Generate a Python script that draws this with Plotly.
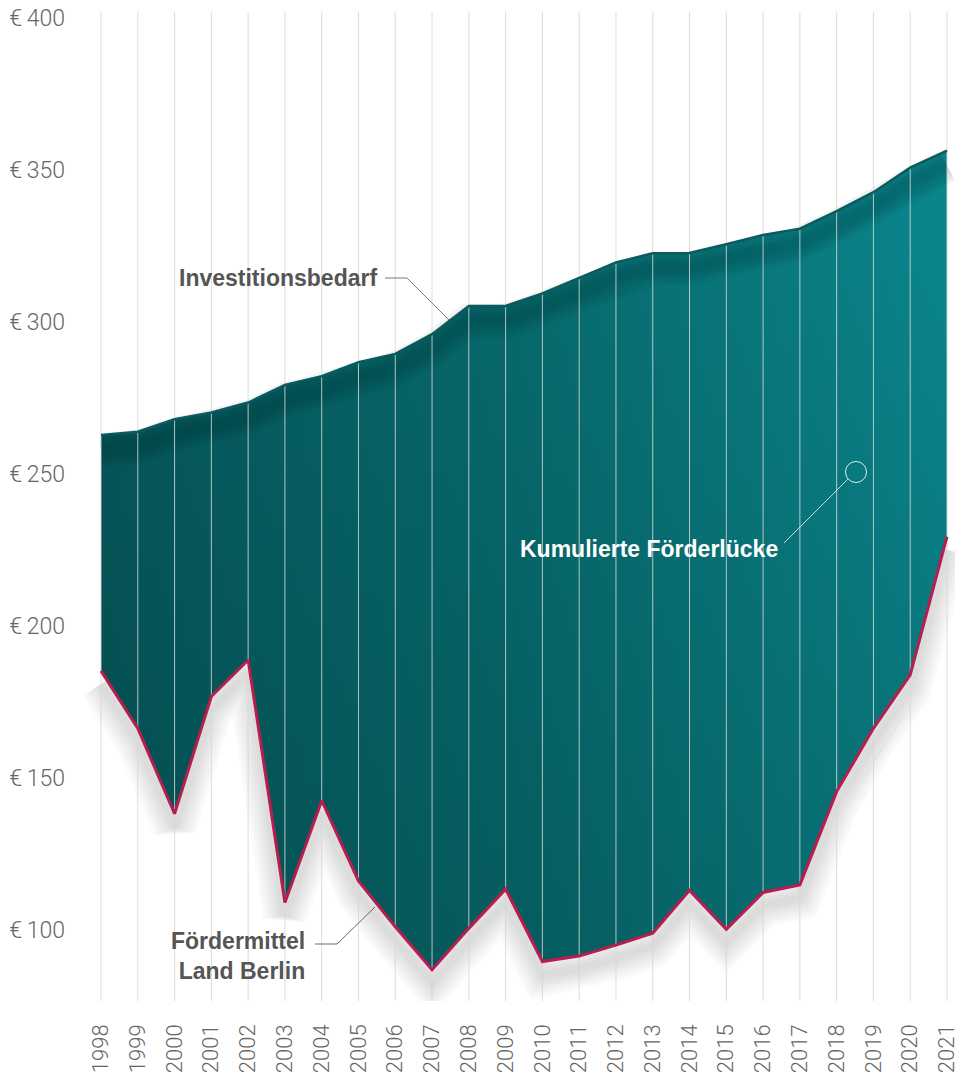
import plotly.graph_objects as go

# ---------------- data ----------------
years = list(range(1998, 2022))
investitionsbedarf = [262.8, 263.9, 268.0, 270.2, 273.5, 279.3, 282.2, 286.8, 289.5, 296.0,
                      305.3, 305.3, 309.4, 314.4, 319.6, 322.6, 322.7, 325.6, 328.6, 330.7,
                      336.5, 342.7, 350.8, 356.4]
foerdermittel = [185.2, 166.3, 138.2, 176.8, 188.8, 109.0, 142.5, 116.1, 101.0, 86.9,
                 100.5, 113.4, 89.6, 91.4, 95.0, 98.9, 113.0, 100.2, 112.3, 114.8,
                 145.5, 166.3, 183.9, 229.4]
y_tick_values = [100, 150, 200, 250, 300, 350, 400]
y_tick_labels = ["€\u2009" + str(v) for v in y_tick_values]
x_tick_labels = [str(y) for y in years]

# ---------------- layout geometry ----------------
W, H = 963, 1076
ML, MR, MT, MB = 70, 8, 12, 75
PW, PH = W - ML - MR, H - MT - MB
X0, X1 = 1997.157, 2021.2175
Y0, Y1 = 76.6, 402.0
ppu_y = PH / (Y1 - Y0)
ppu_x = PW / (X1 - X0)


def xd(px):
    return X0 + (px - ML) / ppu_x


def yd(py):
    return Y1 - (py - MT) / ppu_y


shift_bottom = 13 / ppu_y
shift_top = 15 / ppu_y

fig = go.Figure()

# bottom line shadow (on shifted axis y)
for w in [44, 38, 32, 26, 20, 14, 8]:
    fig.add_trace(go.Scatter(x=years, y=foerdermittel, mode="lines", yaxis="y",
                             line=dict(color="rgba(0,0,0,0.02)", width=w),
                             hoverinfo="skip", showlegend=False))

# main fill (y2)
fig.add_trace(go.Scatter(x=years, y=foerdermittel, mode="lines", yaxis="y2",
                         line=dict(width=0), hoverinfo="skip", showlegend=False))
fig.add_trace(go.Scatter(x=years, y=investitionsbedarf, mode="lines", yaxis="y2",
                         line=dict(width=0), fill="tonexty",
                         fillgradient=dict(type="horizontal",
                                           colorscale=[[0, "#05575a"], [0.5, "#076a6d"], [1, "#0a858c"]]),
                         hoverinfo="skip", showlegend=False))
# vertical darkening overlay
fig.add_trace(go.Scatter(x=years, y=foerdermittel, mode="lines", yaxis="y2",
                         line=dict(width=0), hoverinfo="skip", showlegend=False))
fig.add_trace(go.Scatter(x=years, y=investitionsbedarf, mode="lines", yaxis="y2",
                         line=dict(width=0), fill="tonexty",
                         fillgradient=dict(type="vertical", start=85, stop=330,
                                           colorscale=[[0, "rgba(0,40,40,0.22)"], [1, "rgba(0,40,40,0)"]]),
                         hoverinfo="skip", showlegend=False))

# top line inner shadow (shifted axis y3)
for w in [34, 28, 22, 16, 10]:
    fig.add_trace(go.Scatter(x=years, y=investitionsbedarf, mode="lines", yaxis="y3",
                             line=dict(color="rgba(0,35,35,0.05)", width=w),
                             hoverinfo="skip", showlegend=False))

# vertical grid lines (y4)
gx, gy = [], []
for yr in years:
    gx += [yr, yr, None]
    gy += [Y0, Y1, None]
fig.add_trace(go.Scatter(x=gx, y=gy, mode="lines", yaxis="y4",
                         line=dict(color="rgba(214,214,214,0.85)", width=1),
                         hoverinfo="skip", showlegend=False))

# lines
fig.add_trace(go.Scatter(x=years, y=foerdermittel, mode="lines", yaxis="y4",
                         name="Fördermittel Land Berlin",
                         line=dict(color="#b81d4f", width=3), showlegend=False))
fig.add_trace(go.Scatter(x=years, y=investitionsbedarf, mode="lines", yaxis="y4",
                         name="Investitionsbedarf",
                         line=dict(color="#0b5b5e", width=2.5), showlegend=False))

ytick_font = dict(family="Roboto, 'Liberation Sans', Arial, sans-serif", size=23,
                  color="#666666", weight=300)
xtick_font = dict(family="Roboto, 'Liberation Sans', Arial, sans-serif", size=22,
                  color="#666666", weight=300)
label_font = dict(family="'Liberation Sans', Arial, sans-serif", size=23,
                  color="#555555", weight="bold")

fig.update_layout(
    width=W, height=H,
    margin=dict(l=ML, r=MR, t=MT, b=MB, pad=0, autoexpand=False),
    paper_bgcolor="white", plot_bgcolor="white",
    showlegend=False,
    xaxis=dict(range=[X0, X1], tickvals=years, ticktext=x_tick_labels, tickangle=-90,
               showgrid=False, zeroline=False, showline=False, ticks="", automargin=False,
               ticklabelstandoff=18, tickfont=xtick_font, fixedrange=True),
    yaxis=dict(range=[Y0 + shift_bottom, Y1 + shift_bottom], visible=False, fixedrange=True,
               automargin=False),
    yaxis2=dict(range=[Y0, Y1], overlaying="y", side="left", tickvals=y_tick_values,
                ticktext=y_tick_labels, showgrid=False, zeroline=False, showline=False,
                ticks="", tickfont=ytick_font, fixedrange=True, ticklabelstandoff=4,
                automargin=False),
    yaxis3=dict(range=[Y0 + shift_top, Y1 + shift_top], overlaying="y", visible=False,
                fixedrange=True, automargin=False),
    yaxis4=dict(range=[Y0, Y1], overlaying="y", visible=False, fixedrange=True,
                automargin=False),
)

# annotations
fig.add_annotation(x=xd(379), y=yd(278), xref="x", yref="y2", text="Investitionsbedarf",
                   showarrow=False, xanchor="right", yanchor="middle", font=label_font)
fig.add_annotation(x=xd(780), y=yd(549), xref="x", yref="y2", text="Kumulierte Förderlücke",
                   showarrow=False, xanchor="right", yanchor="middle",
                   font=dict(label_font, color="white"))
fig.add_annotation(x=xd(307), y=yd(956), xref="x", yref="y2",
                   text="Fördermittel<br>Land Berlin", align="right",
                   showarrow=False, xanchor="right", yanchor="middle", font=label_font)

# connector shapes
def path(points):
    return "M " + " L ".join(f"{xd(px)},{yd(py)}" for px, py in points)

fig.add_shape(type="path", xref="x", yref="y2",
              path=path([(385, 278), (407, 278), (449, 320)]),
              line=dict(color="#7a7a7a", width=1))
fig.add_shape(type="path", xref="x", yref="y2",
              path=path([(315, 944), (337, 944), (375, 907)]),
              line=dict(color="#6a6a6a", width=1))
fig.add_shape(type="path", xref="x", yref="y2",
              path=path([(784, 543), (848, 479)]),
              line=dict(color="rgba(255,255,255,0.75)", width=1))
fig.add_shape(type="circle", xref="x", yref="y2",
              x0=xd(845.5), x1=xd(866.5), y0=yd(482.5), y1=yd(461.5),
              line=dict(color="rgba(255,255,255,0.85)", width=1))

fig.write_html("out.html", config={"displayModeBar": False},
               post_script="document.body.style.margin='0';document.body.style.padding='0';")
